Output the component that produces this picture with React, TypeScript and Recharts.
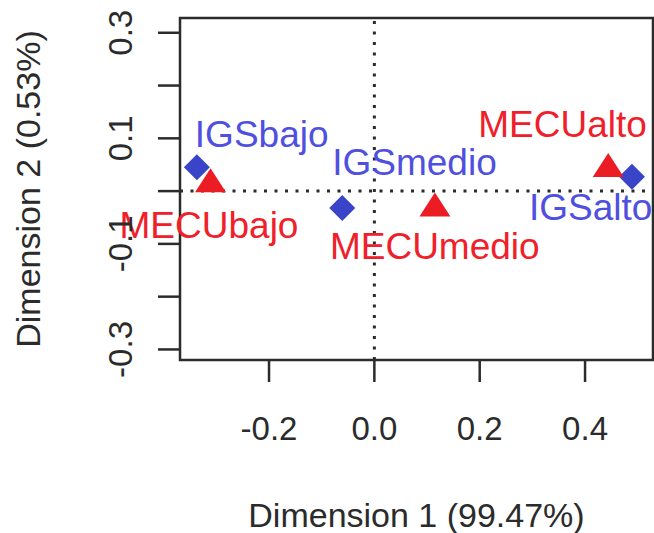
import { ScatterChart, Scatter, XAxis, YAxis, ReferenceLine, ReferenceArea } from "recharts"

// column categories (IGS) and row categories (MECU)
const igsNames = ["IGSbajo", "IGSmedio", "IGSalto"]
const igsDim1 = [-0.337, -0.061, 0.489]
const igsDim2 = [0.045, -0.032, 0.027]

const mecuNames = ["MECUbajo", "MECUmedio", "MECUalto"]
const mecuDim1 = [-0.311, 0.115, 0.444]
const mecuDim2 = [0.013, -0.033, 0.042]

const xTicks = [-0.2, 0, 0.2, 0.4]
const yTicks = [-0.3, -0.2, -0.1, 0, 0.1, 0.2, 0.3]

const xTitle = "Dimension 1 (99.47%)"
const yTitle = "Dimension 2 (0.53%)"

const igsData = igsNames.map((name, i) => ({ name, x: igsDim1[i], y: igsDim2[i] }))
const mecuData = mecuNames.map((name, i) => ({ name, x: mecuDim1[i], y: mecuDim2[i] }))

const FONT = "'Liberation Sans', Arial, sans-serif"
const AXIS = "#2b2b2b"
const BLUE = "#3a44c8"
const BLUE_TEXT = "#4f4fe0"
const RED = "#ec1c24"
const RED_TEXT = "#f0202a"

// where each text label sits relative to its marker
const labelOffset: Record<string, [number, number]> = {
  IGSbajo: [-2, -20],
  IGSmedio: [-10, -33],
  IGSalto: [-103, 43],
  MECUbajo: [-91, 54],
  MECUmedio: [-105, 50],
  MECUalto: [-130, -32],
}

const Diamond = (props: any) => {
  const { cx, cy, payload } = props
  const r = 13
  const [dx, dy] = labelOffset[payload.name]
  return (
    <g>
      <path d={`M${cx},${cy - r}L${cx + r},${cy}L${cx},${cy + r}L${cx - r},${cy}Z`} fill={BLUE} />
      <text x={cx + dx} y={cy + dy} fill={BLUE_TEXT} fontSize={37} fontFamily={FONT}>
        {payload.name}
      </text>
    </g>
  )
}

const Triangle = (props: any) => {
  const { cx, cy, payload } = props
  const h = 24
  const w = 31
  const [dx, dy] = labelOffset[payload.name]
  return (
    <g>
      <path
        d={`M${cx},${cy - (2 * h) / 3}L${cx + w / 2},${cy + h / 3}L${cx - w / 2},${cy + h / 3}Z`}
        fill={RED}
      />
      <text x={cx + dx} y={cy + dy} fill={RED_TEXT} fontSize={37} fontFamily={FONT}>
        {payload.name}
      </text>
    </g>
  )
}

const XTick = (props: any) => {
  const { x, y, payload } = props
  return (
    <text x={x} y={y + 56} textAnchor="middle" fill={AXIS} fontSize={33} fontFamily={FONT}>
      {payload.value.toFixed(1)}
    </text>
  )
}

const YTick = (props: any) => {
  const { x, y, payload } = props
  const v = payload.value
  if (Math.round(v * 10) % 2 === 0) return <g />
  const tx = x - 24
  return (
    <text
      x={tx}
      y={y}
      textAnchor="middle"
      transform={`rotate(-90 ${tx} ${y})`}
      fill={AXIS}
      fontSize={33}
      fontFamily={FONT}
    >
      {v.toFixed(1)}
    </text>
  )
}

export default function App() {
  return (
    <div style={{ position: "absolute", left: 0, top: 0, width: 654, height: 533, background: "#fff" }}>
      <ScatterChart width={654} height={533} margin={{ top: 18, right: 1, bottom: 0, left: 0 }}>
        <XAxis
          type="number"
          dataKey="x"
          domain={[-0.369, 0.529]}
          ticks={xTicks}
          height={173}
          tickSize={22}
          tickLine={{ stroke: AXIS, strokeWidth: 2.5 }}
          axisLine={false}
          tick={<XTick />}
          interval={0}
          label={{
            value: xTitle,
            position: "insideBottom",
            offset: 6,
            fill: AXIS,
            fontSize: 34,
            fontFamily: FONT,
          }}
        />
        <YAxis
          type="number"
          dataKey="y"
          domain={[-0.32, 0.328]}
          ticks={yTicks}
          width={180}
          tickSize={22}
          tickLine={{ stroke: AXIS, strokeWidth: 2.5 }}
          axisLine={false}
          tick={<YTick />}
          interval={0}
          label={{
            value: yTitle,
            angle: -90,
            position: "insideLeft",
            offset: 28,
            style: { textAnchor: "middle" },
            fill: AXIS,
            fontSize: 34,
            fontFamily: FONT,
          }}
        />
        <ReferenceArea
          x1={-0.369}
          x2={0.529}
          y1={-0.32}
          y2={0.328}
          fill="none"
          fillOpacity={0}
          stroke={AXIS}
          strokeWidth={2.5}
        />
        <ReferenceLine x={0} stroke={AXIS} strokeWidth={3} strokeDasharray="3 7.5" />
        <ReferenceLine y={0} stroke={AXIS} strokeWidth={3} strokeDasharray="3 7.5" />
        <Scatter data={igsData} shape={<Diamond />} isAnimationActive={false} />
        <Scatter data={mecuData} shape={<Triangle />} isAnimationActive={false} />
      </ScatterChart>
    </div>
  )
}
